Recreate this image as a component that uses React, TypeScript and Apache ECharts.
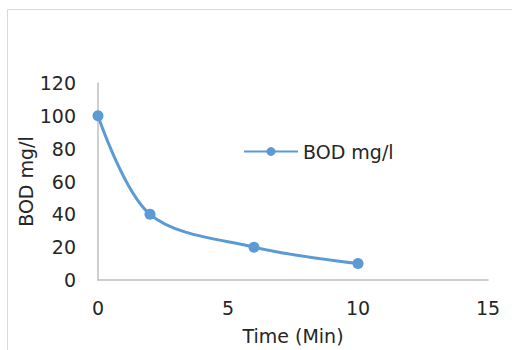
import React, { useEffect, useRef } from "react";
import * as echarts from "echarts";

const timeMin = [0, 2, 6, 10];
const bodValues = [100, 40, 20, 10];
const seriesName = "BOD mg/l";
const xTitle = "Time (Min)";
const yTitle = "BOD mg/l";

const FONT = "DejaVu Sans";
const TEXT = "#262626";

export default function App() {
  const ref = useRef<HTMLDivElement>(null);
  useEffect(() => {
    document.body.style.margin = "0";
    if (!ref.current) return;
    const chart = echarts.init(ref.current, null, { renderer: "svg" });
    chart.setOption({
      animation: false,
      backgroundColor: "#ffffff",
      textStyle: { fontFamily: FONT },
      graphic: [
        {
          type: "rect",
          shape: { x: 7.5, y: 9.5, width: 700, height: 500 },
          style: { fill: "none", stroke: "#d9d9d9", lineWidth: 1 },
          silent: true,
        },
      ],
      grid: { left: 98, right: 24, top: 83, bottom: 68, containLabel: false },
      legend: {
        left: 243,
        top: 142,
        padding: 0,
        itemWidth: 54,
        itemHeight: 11,
        itemGap: 5,
        textStyle: { fontFamily: FONT, fontSize: 19, color: TEXT },
        data: [seriesName],
      },
      xAxis: {
        type: "value",
        min: 0,
        max: 15,
        interval: 5,
        name: xTitle,
        nameLocation: "middle",
        nameGap: 46,
        nameMoveOverlap: false,
        nameTextStyle: { fontFamily: FONT, fontSize: 19, color: TEXT },
        axisLine: { show: true, lineStyle: { color: "#bfbfbf", width: 1.5 } },
        axisTick: { show: false },
        splitLine: { show: false },
        axisLabel: { fontFamily: FONT, fontSize: 19, color: TEXT, margin: 18 },
      },
      yAxis: {
        type: "value",
        min: 0,
        max: 120,
        interval: 20,
        name: yTitle,
        nameLocation: "middle",
        nameGap: 63,
        nameMoveOverlap: false,
        nameRotate: 90,
        nameTextStyle: { fontFamily: FONT, fontSize: 19, color: TEXT },
        axisLine: { show: true, lineStyle: { color: "#bfbfbf", width: 1.5 } },
        axisTick: { show: false },
        splitLine: { show: false },
        axisLabel: { fontFamily: FONT, fontSize: 19, color: TEXT, margin: 22 },
      },
      series: [
        {
          name: seriesName,
          type: "line",
          data: timeMin.map((t, i) => [t, bodValues[i]]),
          smooth: 0.33,
          symbol: "circle",
          symbolSize: 11,
          lineStyle: { color: "#5b9bd5", width: 3 },
          itemStyle: { color: "#5b9bd5" },
        },
      ],
    });
    return () => chart.dispose();
  }, []);
  return <div ref={ref} style={{ width: 512, height: 350 }} />;
}
